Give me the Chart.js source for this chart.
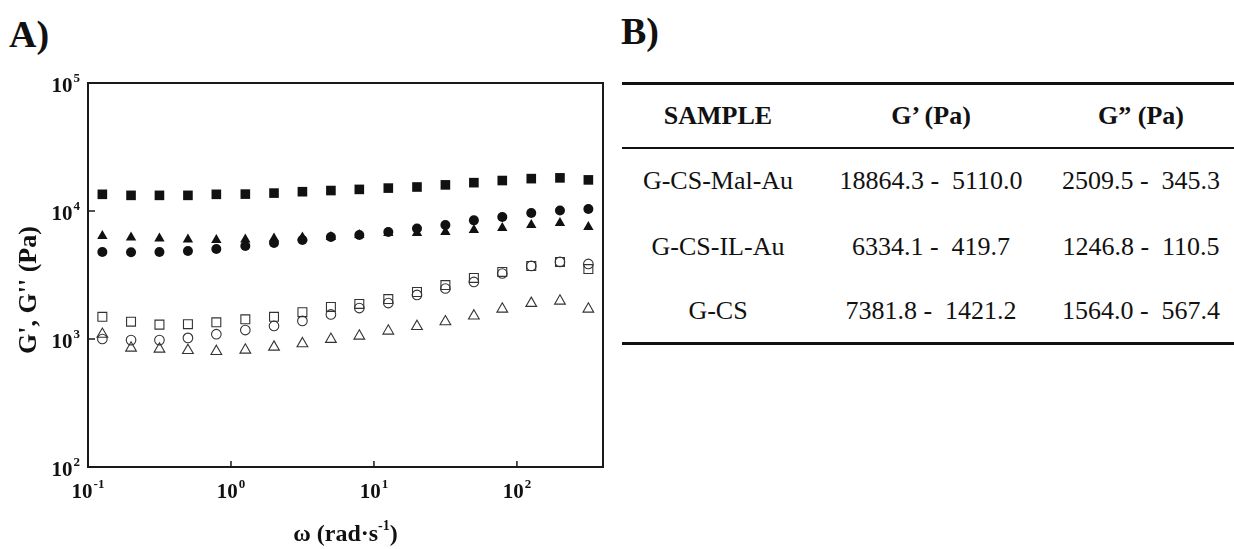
<!DOCTYPE html>
<html>
<head>
<meta charset="utf-8">
<script src="https://cdn.jsdelivr.net/npm/chart.js@4/dist/chart.umd.min.js"></script>
<style>
    body {
        margin: 0;
        width: 1234px;
        height: 549px;
        position: relative;
        overflow: hidden;
        background: #fff;
        color: #111;
        font-family: "Liberation Serif", "Times New Roman", serif;
    }
    .panel-label {
        position: absolute;
        font-size: 38px;
        font-weight: bold;
        line-height: 1;
    }
    #chartBox {
        position: absolute;
        left: 0;
        top: 0;
    }
    table.summary {
        position: absolute;
        left: 622px;
        top: 82px;
        width: 612px;
        border-collapse: collapse;
        font-size: 26px;
        table-layout: fixed;
    }
    table.summary th, table.summary td {
        text-align: center;
        padding: 0;
        white-space: pre;
    }
    table.summary thead tr {
        border-top: 3px solid #111;
        border-bottom: 2px solid #111;
        height: 64px;
    }
    table.summary tbody tr { height: 66px; }
    table.summary tbody tr:last-child {
        height: 64px;
        border-bottom: 3px solid #111;
    }
</style>
</head>
<body>
<div class="panel-label" style="left:9px; top:15px;">A)</div>
<div class="panel-label" style="left:621px; top:12px;">B)</div>

<div id="chartBox"><canvas id="rheoChart" width="620" height="549"></canvas></div>

<table class="summary">
    <colgroup><col style="width:192px"><col style="width:234px"><col style="width:186px"></colgroup>
    <thead>
        <tr><th>SAMPLE</th><th>G’ (Pa)</th><th>G” (Pa)</th></tr>
    </thead>
    <tbody>
        <tr><td>G-CS-Mal-Au</td><td>18864.3 -  5110.0</td><td>2509.5 -  345.3</td></tr>
        <tr><td>G-CS-IL-Au</td><td>6334.1 -  419.7</td><td>1246.8 -  110.5</td></tr>
        <tr><td>G-CS</td><td>7381.8 -  1421.2</td><td>1564.0 -  567.4</td></tr>
    </tbody>
</table>

<script>
// Angular frequency (rad/s)
const omega = [0.126, 0.2, 0.316, 0.5, 0.79, 1.26, 2.0, 3.16, 5.0, 7.9, 12.6, 20, 31.6, 50, 79, 126, 200, 316];

// Storage modulus G' (filled symbols)
const malAuStorage = [13500, 13250, 13250, 13250, 13500, 13550, 13800, 14150, 14450, 14750, 15100, 15400, 16000, 16650, 17300, 17900, 18150, 17500];
const ilAuStorage  = [6380, 6210, 6100, 5990, 5940, 5990, 6100, 6210, 6270, 6490, 6730, 6730, 6850, 7110, 7370, 7780, 8060, 7500];
const csStorage    = [4790, 4760, 4790, 4870, 5050, 5330, 5620, 5940, 6270, 6490, 6850, 7300, 7780, 8450, 8980, 9640, 10100, 10350];

// Loss modulus G'' (open symbols)
const malAuLoss = [1490, 1365, 1295, 1305, 1350, 1425, 1490, 1620, 1780, 1880, 2050, 2330, 2640, 3000, 3340, 3720, 4000, 3520];
const csLoss    = [1000, 980, 980, 1020, 1090, 1175, 1265, 1385, 1555, 1745, 1910, 2210, 2480, 2790, 3250, 3720, 4000, 3860];
const ilAuLoss  = [1090, 850, 835, 815, 800, 820, 865, 920, 995, 1055, 1155, 1255, 1365, 1515, 1715, 1900, 1980, 1715];

// Decade ticks and their exponents
const xTickValues = [0.1, 1, 10, 100];
const xTickExps = ['-1', '0', '1', '2'];
const yTickValues = [100, 1000, 10000, 100000];
const yTickExps = ['2', '3', '4', '5'];

const SERIF = '"Liberation Serif", "Times New Roman", serif';
const INK = '#111';

function toPoints(values) {
    return values.map((v, i) => ({ x: omega[i], y: v }));
}

/**
 * Draw "10" with a superscript exponent; align is 'center' or 'right'
 */
function drawPower(ctx, base, exp, x, y, align) {
    ctx.font = 'bold 21px ' + SERIF;
    const baseW = ctx.measureText(base).width;
    ctx.font = 'bold 13px ' + SERIF;
    const expW = ctx.measureText(exp).width;
    const total = baseW + expW + 1;
    let left = align === 'right' ? x - total : x - total / 2;
    ctx.textAlign = 'left';
    ctx.textBaseline = 'alphabetic';
    ctx.font = 'bold 21px ' + SERIF;
    ctx.fillText(base, left, y);
    ctx.font = 'bold 13px ' + SERIF;
    ctx.fillText(exp, left + baseW + 1, y - 10);
}

/**
 * Frame, inward ticks, power-of-ten labels and axis titles
 */
const frameAxesPlugin = {
    id: 'frameAxes',
    afterDraw: function(chart) {
        const ctx = chart.ctx;
        const area = chart.chartArea;
        const xs = chart.scales.x;
        const ys = chart.scales.y;
        ctx.save();
        ctx.strokeStyle = '#1a1a1a';
        ctx.lineWidth = 2;
        ctx.strokeRect(area.left, area.top, area.right - area.left, area.bottom - area.top);

        ctx.lineWidth = 1.5;
        xTickValues.forEach(v => {
            const px = xs.getPixelForValue(v);
            ctx.beginPath();
            ctx.moveTo(px, area.bottom);
            ctx.lineTo(px, area.bottom - 6);
            ctx.stroke();
        });
        yTickValues.forEach(v => {
            const py = ys.getPixelForValue(v);
            ctx.beginPath();
            ctx.moveTo(area.left, py);
            ctx.lineTo(area.left + 7, py);
            ctx.stroke();
        });

        ctx.fillStyle = INK;
        xTickValues.forEach((v, i) => {
            drawPower(ctx, '10', xTickExps[i], xs.getPixelForValue(v), area.bottom + 31, 'center');
        });
        yTickValues.forEach((v, i) => {
            drawPower(ctx, '10', yTickExps[i], area.left - 8, ys.getPixelForValue(v) + 9, 'right');
        });

        // y title
        ctx.save();
        ctx.translate(36, 290);
        ctx.rotate(-Math.PI / 2);
        ctx.font = 'bold 26px ' + SERIF;
        ctx.textAlign = 'center';
        ctx.textBaseline = 'alphabetic';
        ctx.fillText("G', G'' (Pa)", 0, 0);
        ctx.restore();

        // x title with superscript
        const cx = (area.left + area.right) / 2;
        const baseY = 541;
        ctx.font = 'bold 24px ' + SERIF;
        const partA = 'ω (rad·s';
        const partC = ')';
        const wA = ctx.measureText(partA).width;
        const wC = ctx.measureText(partC).width;
        ctx.font = 'bold 14px ' + SERIF;
        const wB = ctx.measureText('-1').width;
        let left = cx - (wA + wB + wC) / 2;
        ctx.textAlign = 'left';
        ctx.font = 'bold 24px ' + SERIF;
        ctx.fillText(partA, left, baseY);
        ctx.font = 'bold 14px ' + SERIF;
        ctx.fillText('-1', left + wA, baseY - 11);
        ctx.font = 'bold 24px ' + SERIF;
        ctx.fillText(partC, left + wA + wB, baseY);
        ctx.restore();
    }
};

function filledSet(label, values, style, radius) {
    return {
        label: label,
        data: toPoints(values),
        pointStyle: style,
        pointRadius: radius,
        pointHoverRadius: radius,
        backgroundColor: INK,
        borderColor: INK,
        borderWidth: 0,
        showLine: false
    };
}

function openSet(label, values, style, radius) {
    return {
        label: label,
        data: toPoints(values),
        pointStyle: style,
        pointRadius: radius,
        pointHoverRadius: radius,
        backgroundColor: 'rgba(0,0,0,0)',
        borderColor: '#333',
        borderWidth: 1.1,
        showLine: false
    };
}

const ctx = document.getElementById('rheoChart').getContext('2d');
new Chart(ctx, {
    type: 'scatter',
    data: {
        datasets: [
            openSet("G'' G-CS-Mal-Au", malAuLoss, 'rect', 6.3),
            openSet("G'' G-CS", csLoss, 'circle', 4.8),
            openSet("G'' G-CS-IL-Au", ilAuLoss, 'triangle', 6.2),
            filledSet("G' G-CS-Mal-Au", malAuStorage, 'rect', 6.8),
            filledSet("G' G-CS", csStorage, 'circle', 5),
            filledSet("G' G-CS-IL-Au", ilAuStorage, 'triangle', 6)
        ]
    },
    options: {
        responsive: false,
        animation: false,
        layout: { padding: { left: 88, top: 83, right: 17, bottom: 82 } },
        plugins: {
            legend: { display: false },
            tooltip: { enabled: false }
        },
        scales: {
            x: { type: 'logarithmic', min: 0.1, max: 400, display: false },
            y: { type: 'logarithmic', min: 100, max: 100000, display: false }
        }
    },
    plugins: [frameAxesPlugin]
});
</script>
</body>
</html>
